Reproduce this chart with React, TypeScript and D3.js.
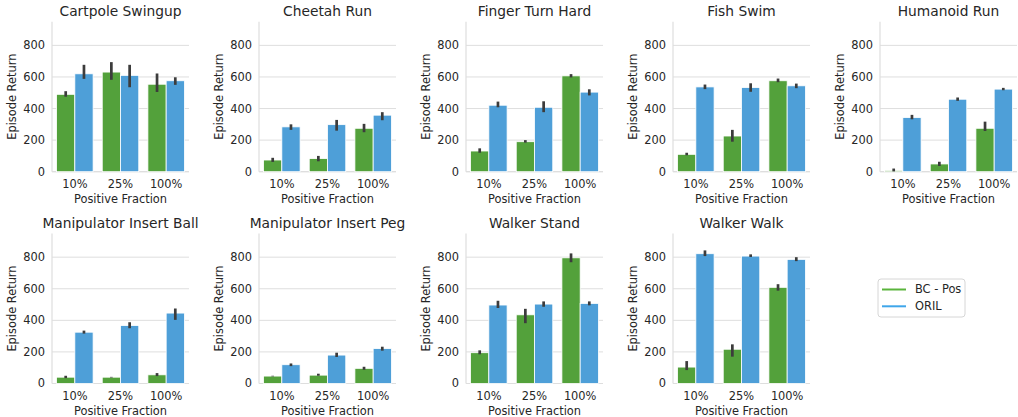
import React, { useEffect, useRef } from 'react';
import * as d3 from 'd3';

// tasks, in drawing order (row by row)
const envNames = [
  'Cartpole Swingup', 'Cheetah Run', 'Finger Turn Hard', 'Fish Swim', 'Humanoid Run',
  'Manipulator Insert Ball', 'Manipulator Insert Peg', 'Walker Stand', 'Walker Walk',
];
const fractions = ['10%', '25%', '100%'];
const seriesNames = ['BC - Pos', 'ORIL'];
const yTicks = [0, 200, 400, 600, 800];

// mean episode return per fraction
const bcPosMean = [
  [490, 631, 554], [74, 83, 275], [131, 190, 607], [110, 226, 576], [8, 49, 275],
  [40, 40, 55], [47, 53, 96], [195, 435, 796], [104, 217, 609],
];
const bcPosLo = [
  [475, 582, 505], [62, 66, 250], [120, 184, 597], [104, 190, 567], [2, 36, 258],
  [34, 38, 47], [45, 49, 87], [185, 382, 768], [85, 170, 588],
];
const bcPosHi = [
  [510, 694, 622], [88, 100, 303], [148, 200, 618], [120, 265, 590], [20, 63, 317],
  [49, 42, 66], [49, 62, 106], [210, 473, 824], [142, 248, 629],
];
const orilMean = [
  [620, 610, 576], [284, 298, 358], [421, 408, 504], [537, 533, 544], [343, 459, 523],
  [325, 367, 446], [119, 180, 221], [497, 503, 507], [822, 807, 786],
];
const orilLo = [
  [588, 535, 550], [265, 260, 326], [408, 377, 483], [523, 506, 529], [332, 449, 516],
  [316, 350, 403], [110, 168, 208], [478, 486, 495], [807, 801, 775],
];
const orilHi = [
  [677, 677, 598], [300, 328, 377], [444, 446, 522], [552, 560, 558], [360, 470, 531],
  [335, 388, 475], [127, 195, 233], [524, 520, 520], [843, 818, 800],
];

const barColors = ['#53a13b', '#4e9fd8'];
const legendColors = ['#5ab43c', '#3fa6ea'];
const textColor = '#262626';
const gridColor = '#dedede';

const width = 1018;
const height = 417;
const panelLeft0 = 52;
const panelStep = 207;
const panelW = 137;
const panelH = 150;
const rowTops = [21.7, 233.5];
const font = '"DejaVu Sans", sans-serif';

const App = () => {
  const svgRef = useRef<SVGSVGElement | null>(null);

  useEffect(() => {
    const svg = d3.select(svgRef.current);
    svg.selectAll('*').remove();

    const y = d3.scaleLinear().domain([0, 950]).range([panelH, 0]);
    const x = d3.scaleBand<string>().domain(fractions).range([0, panelW])
      .paddingInner(0.2).paddingOuter(0.1);
    const xSub = d3.scaleBand<string>().domain(seriesNames).range([0, x.bandwidth()]);

    envNames.forEach((name, i) => {
      const row = Math.floor(i / 5);
      const col = i % 5;
      const g = svg.append('g')
        .attr('transform', `translate(${panelLeft0 + col * panelStep},${rowTops[row]})`);

      // horizontal grid
      g.selectAll('line.grid')
        .data(yTicks)
        .join('line')
        .attr('x1', 0).attr('x2', panelW)
        .attr('y1', d => y(d)).attr('y2', d => y(d))
        .attr('stroke', gridColor).attr('stroke-width', 1);

      // spines
      g.append('line').attr('x1', 0).attr('x2', 0).attr('y1', 0).attr('y2', panelH)
        .attr('stroke', gridColor).attr('stroke-width', 1.2);
      g.append('line').attr('x1', 0).attr('x2', panelW).attr('y1', panelH).attr('y2', panelH)
        .attr('stroke', gridColor).attr('stroke-width', 1.2);

      const series = [
        { mean: bcPosMean[i], lo: bcPosLo[i], hi: bcPosHi[i] },
        { mean: orilMean[i], lo: orilLo[i], hi: orilHi[i] },
      ];

      series.forEach((s, si) => {
        const sx = (f: string) => (x(f) ?? 0) + (xSub(seriesNames[si]) ?? 0);
        g.selectAll(`rect.s${si}`)
          .data(fractions)
          .join('rect')
          .attr('x', f => sx(f))
          .attr('width', xSub.bandwidth())
          .attr('y', (_, k) => y(s.mean[k]))
          .attr('height', (_, k) => panelH - y(s.mean[k]))
          .attr('fill', barColors[si])
          .attr('stroke', '#ffffff')
          .attr('stroke-width', 0.8);

        g.selectAll(`line.e${si}`)
          .data(fractions)
          .join('line')
          .attr('x1', f => sx(f) + xSub.bandwidth() / 2)
          .attr('x2', f => sx(f) + xSub.bandwidth() / 2)
          .attr('y1', (_, k) => y(s.lo[k]))
          .attr('y2', (_, k) => y(s.hi[k]))
          .attr('stroke', '#3c3c3c')
          .attr('stroke-width', 2.7);
      });

      // y tick labels
      g.selectAll('text.yt')
        .data(yTicks)
        .join('text')
        .attr('x', -7)
        .attr('y', d => y(d))
        .attr('dy', '0.35em')
        .attr('text-anchor', 'end')
        .attr('font-size', 11.4)
        .attr('font-family', font)
        .attr('fill', textColor)
        .text(d => d);

      // x tick labels
      g.selectAll('text.xt')
        .data(fractions)
        .join('text')
        .attr('x', f => (x(f) ?? 0) + x.bandwidth() / 2)
        .attr('y', panelH + 16.5)
        .attr('text-anchor', 'middle')
        .attr('font-size', 11.4)
        .attr('font-family', font)
        .attr('fill', textColor)
        .text(f => f);

      g.append('text')
        .attr('x', panelW / 2)
        .attr('y', panelH + 31.5)
        .attr('text-anchor', 'middle')
        .attr('font-size', 11.4)
        .attr('font-family', font)
        .attr('fill', textColor)
        .text('Positive Fraction');

      g.append('text')
        .attr('transform', `translate(-36,${panelH / 2}) rotate(-90)`)
        .attr('text-anchor', 'middle')
        .attr('font-size', 11.4)
        .attr('font-family', font)
        .attr('fill', textColor)
        .text('Episode Return');

      g.append('text')
        .attr('x', panelW / 2)
        .attr('y', -6)
        .attr('text-anchor', 'middle')
        .attr('font-size', 13.8)
        .attr('font-family', font)
        .attr('fill', textColor)
        .text(name);
    });

    // legend
    const lg = svg.append('g').attr('transform', 'translate(878,279)');
    lg.append('rect')
      .attr('width', 87).attr('height', 38).attr('rx', 3)
      .attr('fill', '#ffffff').attr('stroke', '#d6d6d6').attr('stroke-width', 1);
    seriesNames.forEach((s, si) => {
      const ly = 10.5 + si * 16.8;
      lg.append('line')
        .attr('x1', 4).attr('x2', 28).attr('y1', ly).attr('y2', ly)
        .attr('stroke', legendColors[si]).attr('stroke-width', 2);
      lg.append('text')
        .attr('x', 37).attr('y', ly).attr('dy', '0.35em')
        .attr('font-size', 11.4)
        .attr('font-family', font)
        .attr('fill', textColor)
        .text(s);
    });
  }, []);

  return (
    <svg
      ref={svgRef}
      width={width}
      height={height}
      style={{ position: 'absolute', left: 0, top: 0, background: '#ffffff' }}
    />
  );
};

export default App;
